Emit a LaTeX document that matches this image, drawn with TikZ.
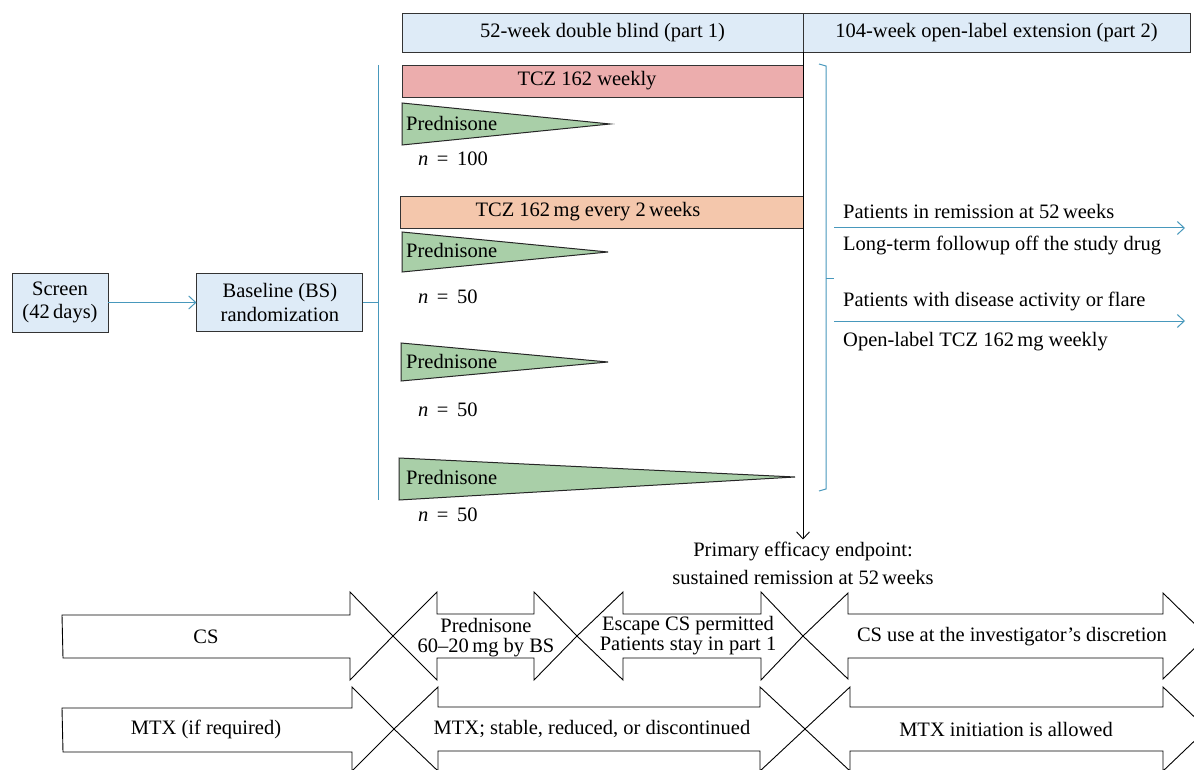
\documentclass[tikz,border=0pt]{standalone}
\usepackage{fontspec}
\setmainfont{Liberation Serif}
\usetikzlibrary{arrows.meta,positioning}
\definecolor{hdrblue}{RGB}{222,235,247}
\definecolor{tczpink}{RGB}{236,173,173}
\definecolor{tczpeach}{RGB}{244,199,172}
\definecolor{predgreen}{RGB}{169,207,168}
\definecolor{linkblue}{RGB}{72,152,188}
\tikzstyle{every node} = [font=\fontsize{20.5}{23.5}\selectfont]
\tikzstyle{header} = [draw=black!80, fill=hdrblue, line width=0.9pt, minimum height=39pt, inner sep=0pt, outer sep=0pt]
\tikzstyle{block} = [draw=black!80, fill=hdrblue, line width=0.9pt, align=center, inner sep=0pt]
\tikzstyle{bar} = [draw=black!80, line width=0.9pt, minimum height=32pt, inner sep=0pt, anchor=north west]
\tikzstyle{wedge} = [draw=black!85, fill=predgreen, line width=1pt]
\tikzstyle{note} = [inner sep=0pt, anchor=west]
\tikzstyle{band} = [draw=black, fill=white, line width=0.9pt, line join=miter]
\tikzstyle{bandtext} = [align=center, inner sep=0pt, font=\fontsize{20.5}{20}\selectfont]
\tikzstyle{link} = [draw=linkblue, line width=1pt]

\begin{document}
\begin{tikzpicture}[x=1pt, y=-1pt, >={Straight Barb[length=7pt,width=13pt]}]
    \clip (0,0) rectangle (1194,770);
    \fill[white] (0,0) rectangle (1194,770);

    % Study periods
    \node [header, minimum width=401pt, anchor=north west] (part1) at (402,13) {52-week double blind (part 1)};
    \node [header, minimum width=387pt, right=0pt of part1] (part2) {104-week open-label extension (part 2)};

    % Screening and randomization
    \node [block, minimum width=96pt, minimum height=59pt] (screen) at (60,302.5) {Screen\\(42\,days)};
    \node [block, minimum width=166pt, minimum height=58pt, right=88pt of screen] (base) {Baseline (BS)\\randomization};
    \draw [link,->] (screen) -- (base);
    \coordinate (splittop) at (378,65);
    \coordinate (splitbot) at (378,500);
    \draw [link] (splittop) -- (splitbot);
    \draw [link] (base.east) -- (base.east -| splittop);

    % Treatment arms
    \node [bar, fill=tczpink, minimum width=401pt] (tczw) at (402,65) {};
    \node (tczwtext) at (587,81) {TCZ 162 weekly};
    \draw [wedge] (402,103) -- (610,124) -- (402,145) -- cycle;
    \node [note] (pred1) at (406,123) {Prednisone};
    \node [note] (n1) at (418,159) {\textit{n}\, =\, 100};

    \node [bar, fill=tczpeach, minimum width=403pt] (tczq) at (400,196) {};
    \node (tczqtext) at (588,212) {TCZ 162\,mg every 2\,weeks};
    \draw [wedge] (402,232) -- (608,252) -- (402,272) -- cycle;
    \node [note] (pred2) at (406,250) {Prednisone};
    \node [note] (n2) at (418,297) {\textit{n}\, =\, 50};

    \draw [wedge] (401,343) -- (608,362) -- (401,381) -- cycle;
    \node [note] (pred3) at (406,361) {Prednisone};
    \node [note] (n3) at (418,410) {\textit{n}\, =\, 50};

    \draw [wedge] (399,458) -- (795,477) -- (399,500) -- cycle;
    \node [note] (pred4) at (406,477) {Prednisone};
    \node [note] (n4) at (418,515) {\textit{n}\, =\, 50};

    % Week 52
    \node [align=center, inner sep=2pt, font=\fontsize{20.5}{28}\selectfont] (endpt) at (803,563) {Primary efficacy endpoint:\\sustained remission at 52\,weeks};
    \draw [->, line width=0.9pt] (part1.south east) -- (part1.south east |- endpt.north);

    % Open-label extension
    \draw [link] (819,64) -- (826,66) -- (826,489) -- (819,491);
    \coordinate (bracemid) at (826,278);
    \draw [link] (bracemid) -- ++(8,0) coordinate (fork);
    \coordinate (remend) at (1185,228);
    \coordinate (flareend) at (1185,321);
    \draw [link,->] (fork |- remend) -- (remend);
    \draw [link,->] (fork |- flareend) -- (flareend);
    \node [note] (rem1) at (843,211) {Patients in remission at 52\,weeks};
    \node [note] (rem2) at (843,245) {Long-term followup off the study drug};
    \node [note] (flare1) at (843,301) {Patients with disease activity or flare};
    \node [note] (flare2) at (843,342) {Open-label TCZ 162\,mg weekly};

    % Concomitant medication bands
    \draw [band] (62,615) -- (350,615) -- (350,592) -- (393,636) -- (350,680) -- (350,658) -- (63,658) -- cycle;
    \draw [band] (62,708) -- (352,708) -- (352,687) -- (394,729) -- (352,771) -- (352,752) -- (63,752) -- cycle;
    \foreach \lt/\lb/\rb/\rt/\yc/\hh in {393/437/534/577/636/44, 577/623/761/803/636/44, 803/848/1163/1207/636/43,
                                        394/438/760/805/729/42, 805/850/1163/1207/729/42}
        \draw [band] (\lt,\yc) -- (\lb,\yc-\hh) -- (\lb,\yc-22) -- (\rb,\yc-22) -- (\rb,\yc-\hh) -- (\rt,\yc)
                     -- (\rb,\yc+\hh) -- (\rb,\yc+22) -- (\lb,\yc+22) -- (\lb,\yc+\hh) -- cycle;
    \node [bandtext] (cs) at (206,637) {CS};
    \node [bandtext] (cspred) at (486,638) {Prednisone\\60--20\,mg by BS};
    \node [bandtext] (csescape) at (688,636) {Escape CS permitted\\Patients stay in part 1};
    \node [bandtext] (csopen) at (1012,637) {CS use at the investigator’s discretion};
    \node [bandtext] (mtx) at (206,729) {MTX (if required)};
    \node [bandtext] (mtxdb) at (592,729) {MTX; stable, reduced, or discontinued};
    \node [bandtext] (mtxopen) at (1006,729) {MTX initiation is allowed};
\end{tikzpicture}
\end{document}
